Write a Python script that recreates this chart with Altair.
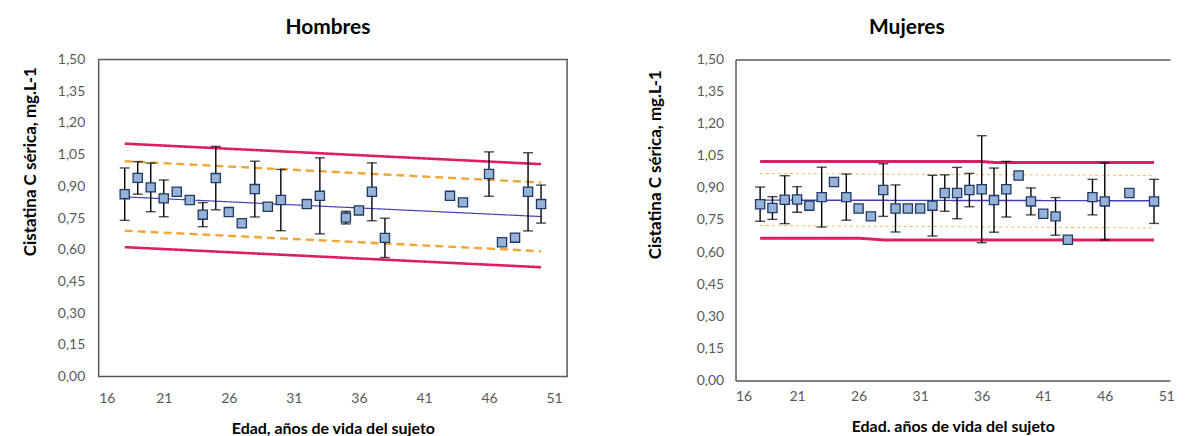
import altair as alt
import pandas as pd

FONT = "Lato"
Y_TITLE = "Cistatina  C sérica, mg.L-1"
X_TITLE_H = "Edad, años de vida del sujeto"
X_TITLE_M = "Edad. años de vida del sujeto"

x_ticks = [16, 21, 26, 31, 36, 41, 46, 51]
y_ticks = [0.0, 0.15, 0.30, 0.45, 0.60, 0.75, 0.90, 1.05, 1.20, 1.35, 1.50]

# ---- Hombres ----
h_age = [18, 19, 20, 21, 22, 23, 24, 25, 26, 27, 28, 29, 30, 32, 33, 35, 36, 37, 38, 43, 44, 46, 47, 48, 49, 50]
h_val = [0.863, 0.940, 0.895, 0.843, 0.874, 0.835, 0.766, 0.939, 0.778, 0.725, 0.887, 0.803, 0.835,
         0.816, 0.855, 0.752, 0.786, 0.874, 0.656, 0.855, 0.824, 0.958, 0.635, 0.657, 0.874, 0.816]
h_err = [0.124, 0.077, 0.115, 0.087, None, None, 0.057, 0.150, None, None, 0.132, None, 0.145,
         None, 0.180, 0.030, None, 0.137, 0.093, None, None, 0.105, None, None, 0.185, 0.090]

h_line_age = [18, 50]
h_red_top = [1.102, 1.005]
h_orange_top = [1.019, 0.918]
h_center = [0.850, 0.757]
h_orange_bot = [0.690, 0.593]
h_red_bot = [0.612, 0.517]

# ---- Mujeres ----
m_age = [18, 19, 20, 21, 22, 23, 24, 25, 26, 27, 28, 29, 30, 31, 32, 33, 34, 35, 36, 37, 38, 39, 40,
         41, 42, 43, 45, 46, 48, 50]
m_val = [0.824, 0.806, 0.845, 0.846, 0.817, 0.857, 0.928, 0.857, 0.804, 0.767, 0.890, 0.804, 0.804,
         0.804, 0.817, 0.876, 0.876, 0.890, 0.894, 0.843, 0.894, 0.958, 0.837, 0.779, 0.767, 0.658,
         0.857, 0.837, 0.876, 0.837]
m_err = [0.080, 0.053, 0.112, 0.060, None, 0.140, None, 0.108, None, None, 0.123, 0.110, None,
         None, 0.142, 0.085, 0.120, 0.078, 0.250, 0.150, 0.130, None, 0.063, None, 0.088, None,
         0.083, 0.180, None, 0.103]

m_red_top_age = [18, 36, 37, 50]
m_red_top = [1.023, 1.023, 1.019, 1.019]
m_red_bot_age = [18, 26, 28, 50]
m_red_bot = [0.665, 0.665, 0.657, 0.657]
m_line_age = [18, 50]
m_center = [0.843, 0.840]
m_orange_top = [0.967, 0.958]
m_orange_bot = [0.724, 0.713]

RED = "#DC1E64"
ORANGE = "#F0A536"
BLUE = "#4040B8"
FILL = "#95B3D7"
EDGE = "#1F3864"
GRAY = "#595959"
LBL = "replace(format(datum.value, '.2f'), '.', ',')"


def line_df(ages, vals):
    return pd.DataFrame({"age": ages, "v": vals})


def build(ages, vals, errs, lines, xdom, width, height, x_title, ytx, yty, lab_pad_x, lab_pad_y,
          x_title_pad, open_right=False, title=None):
    xs = alt.Scale(domain=xdom, nice=False, zero=False)
    ys = alt.Scale(domain=[0, 1.5], nice=False, zero=True)
    x_axis = alt.Axis(values=x_ticks, title=x_title, grid=False, ticks=False, domain=open_right,
                      domainColor=GRAY, domainWidth=1.5,
                      labelPadding=lab_pad_x, labelFont=FONT, labelFontSize=14, labelColor=GRAY,
                      titleFont=FONT, titleFontSize=16, titleFontWeight="bold", titleColor="#000000",
                      titlePadding=x_title_pad, format="d")
    y_axis = alt.Axis(values=y_ticks, labelExpr=LBL, title=Y_TITLE, grid=False, ticks=False,
                      domain=open_right, domainColor=GRAY, domainWidth=1.5,
                      labelPadding=lab_pad_y, labelFont=FONT, labelFontSize=14, labelColor=GRAY,
                      titleFont=FONT, titleFontSize=17, titleFontWeight="bold", titleColor="#000000",
                      titleX=ytx, titleY=yty, titleBaseline="middle", titleAlign="center")

    X = lambda: alt.X("age:Q", scale=xs, axis=x_axis)
    Y = lambda f="v": alt.Y(f + ":Q", scale=ys, axis=y_axis)

    layers = []
    for (la, lv, color, sw, dash) in lines:
        mk = alt.Chart(line_df(la, lv)).mark_line(color=color, strokeWidth=sw,
                                                  strokeDash=dash if dash else [1, 0])
        layers.append(mk.encode(x=X(), y=Y()))

    pdf = pd.DataFrame({"age": ages, "v": vals, "e": errs})
    edf = pdf.dropna().copy()
    edf["lo"] = edf["v"] - edf["e"]
    edf["hi"] = edf["v"] + edf["e"]

    layers.append(alt.Chart(edf).mark_rule(color="#000000", strokeWidth=1.4).encode(
        x=X(), y=Y("lo"), y2="hi:Q"))
    layers.append(alt.Chart(edf).mark_tick(color="#000000", orient="horizontal", size=10,
                                           thickness=1.4).encode(x=X(), y=Y("lo")))
    layers.append(alt.Chart(edf).mark_tick(color="#000000", orient="horizontal", size=10,
                                           thickness=1.4).encode(x=X(), y=Y("hi")))
    layers.append(alt.Chart(pdf).mark_square(size=85, fill=FILL, stroke=EDGE, strokeWidth=1.3,
                                             opacity=1, fillOpacity=1).encode(x=X(), y=Y()))
    inner = alt.layer(*layers)
    if open_right:
        top_axis = alt.Axis(orient="top", labels=False, ticks=False, title=None, grid=False,
                            domain=True, domainColor=GRAY, domainWidth=1.5, values=x_ticks)
        top = alt.Chart(pdf).mark_point(opacity=0).encode(
            x=alt.X("age:Q", scale=xs, axis=top_axis), y=Y())
        ch = alt.layer(inner, top).resolve_axis(x="independent")
        ch = ch.properties(width=width, height=height, title=title,
                           view=alt.ViewBackground(stroke="transparent"))
    else:
        ch = inner.properties(width=width, height=height, title=title,
                              view=alt.ViewBackground(stroke=GRAY, strokeWidth=1.5))
    return ch


h_lines = [
    (h_line_age, h_red_top, RED, 2.6, None),
    (h_line_age, h_red_bot, RED, 2.6, None),
    (h_line_age, h_orange_top, ORANGE, 2.4, [8, 5]),
    (h_line_age, h_orange_bot, ORANGE, 2.4, [8, 5]),
    (h_line_age, h_center, BLUE, 1.2, None),
]
m_lines = [
    (m_red_top_age, m_red_top, RED, 3.0, None),
    (m_red_bot_age, m_red_bot, RED, 3.0, None),
    (m_line_age, m_orange_top, "#EDBB62", 1.0, [3, 3]),
    (m_line_age, m_orange_bot, "#EDBB62", 1.0, [3, 3]),
    (m_line_age, m_center, BLUE, 1.4, None),
]

left = build(h_age, h_val, h_err, h_lines, [16, 52], 470, 318, X_TITLE_H, -68, 102, 15, 14, 15,
             open_right=False,
             title=alt.TitleParams("Hombres", font=FONT, fontSize=21, fontWeight="bold",
                                   color="#000000", anchor="middle", offset=15, dx=-5))
right = build(m_age, m_val, m_err, m_lines, [16, 51.3], 436, 322, X_TITLE_M, -80, 105, 9, 12, 15,
              open_right=True,
              title=alt.TitleParams("Mujeres", font=FONT, fontSize=21, fontWeight="bold",
                                    color="#000000", anchor="start", frame="group", dx=134,
                                    offset=15))

chart = alt.hconcat(left, right, spacing=78).properties(
    padding={"left": 13, "top": 7, "right": 2, "bottom": 0}
).configure(background="white")

chart.save("out.html", embed_options={"renderer": "svg", "actions": False})
